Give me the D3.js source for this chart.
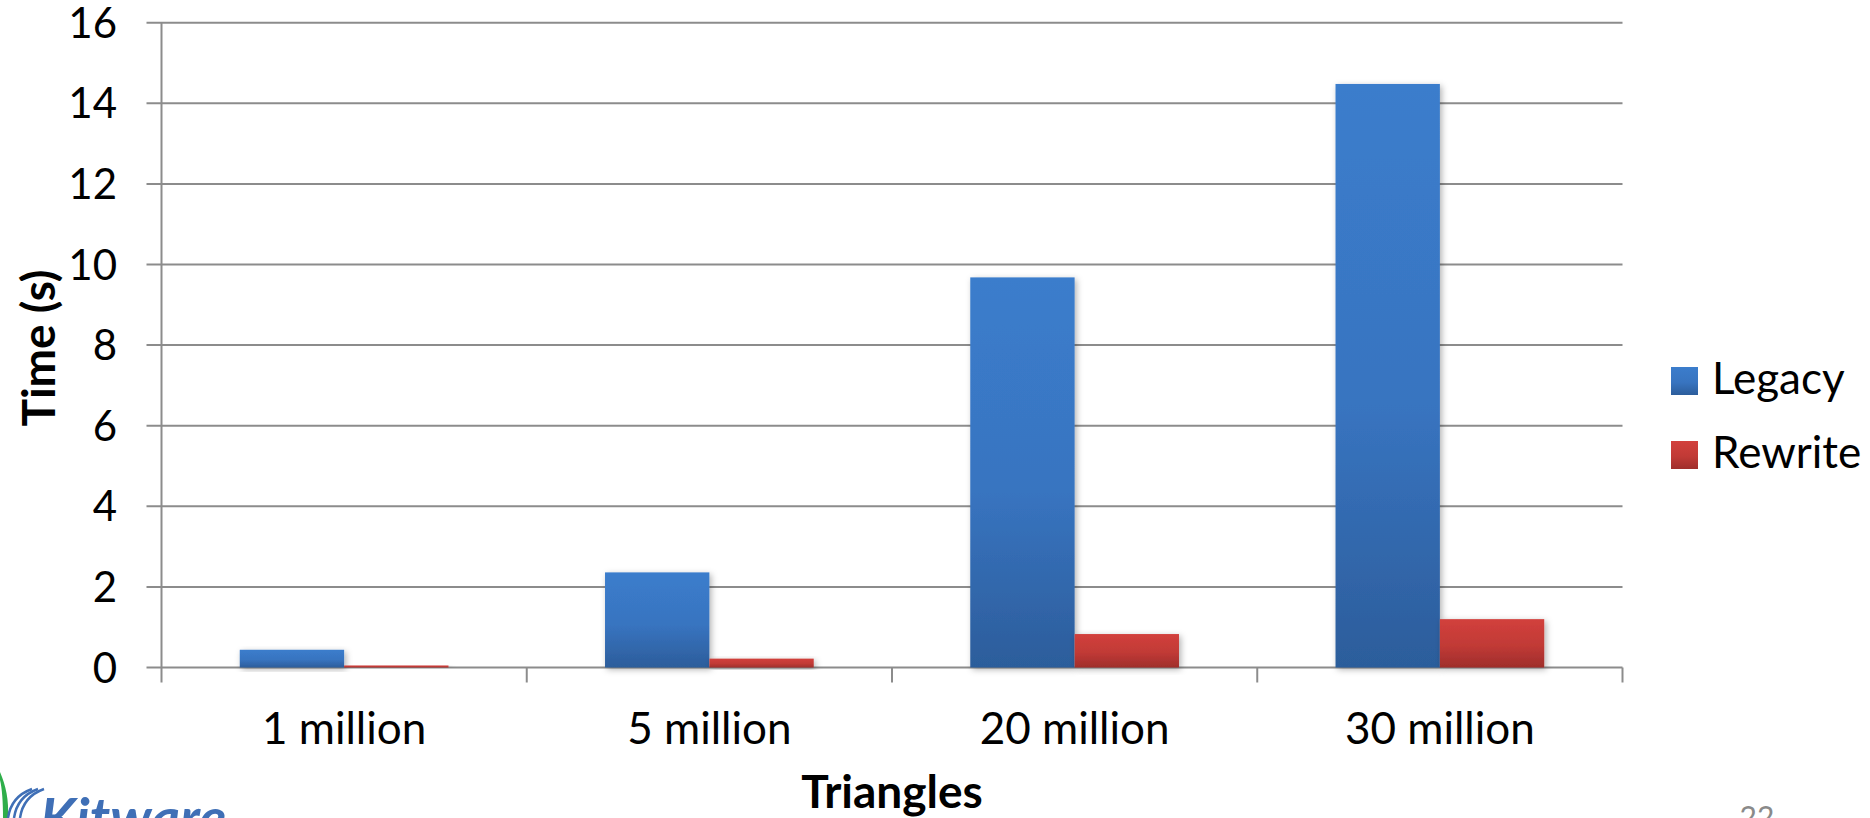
<!DOCTYPE html>
<html>
<head>
<meta charset="utf-8">
<script src="https://cdn.jsdelivr.net/npm/d3@7/dist/d3.min.js"></script>
<style>
  html, body { margin: 0; padding: 0; background: #ffffff; }
  svg { display: block; font-family: Lato, "Open Sans", sans-serif; }
</style>
</head>
<body>
<svg id="chart" width="1870" height="818"></svg>
<script>
// Render time by triangle count, legacy vs rewritten pipeline
const categories = ["1 million", "5 million", "20 million", "30 million"];
const seriesNames = ["Legacy", "Rewrite"];
const legacyTimes = [0.44, 2.36, 9.68, 14.48];
const rewriteTimes = [0.05, 0.22, 0.83, 1.2];
const yTicks = [0, 2, 4, 6, 8, 10, 12, 14, 16];
const xTitle = "Triangles";
const yTitle = "Time (s)";
const pageNumber = "22";

const seriesValues = { Legacy: legacyTimes, Rewrite: rewriteTimes };

const svg = d3.select("#chart");
const plot = { left: 161.5, right: 1622.5, top: 22.7, bottom: 667.5 };

const x = d3.scaleBand().domain(categories).range([plot.left, plot.right]).paddingInner(0).paddingOuter(0);
const xs = d3.scaleBand().domain(seriesNames).range([0, x.bandwidth()]).paddingInner(0).paddingOuter(0.75);
const y = d3.scaleLinear().domain([0, 16]).range([plot.bottom, plot.top]);

// gradients and shadow
const defs = svg.append("defs");
const gradStops = {
  Legacy: [["0%", "#3b7dcc"], ["55%", "#3874c0"], ["100%", "#2c5d9b"]],
  Rewrite: [["0%", "#d2403c"], ["55%", "#c13a36"], ["100%", "#9f2e2b"]]
};
seriesNames.forEach(s => {
  const g = defs.append("linearGradient").attr("id", "grad-" + s)
    .attr("x1", 0).attr("y1", 0).attr("x2", 0).attr("y2", 1);
  gradStops[s].forEach(([o, c]) => g.append("stop").attr("offset", o).attr("stop-color", c));
});
const shadow = defs.append("filter").attr("id", "barShadow")
  .attr("x", "-20%").attr("y", "-20%").attr("width", "140%").attr("height", "140%");
shadow.append("feDropShadow").attr("dx", 2).attr("dy", 2).attr("stdDeviation", 3)
  .attr("flood-color", "#000").attr("flood-opacity", 0.3);

const gridColor = "#8c8c8c";

// horizontal gridlines
svg.append("g").selectAll("line").data(yTicks).join("line")
  .attr("x1", plot.left - 15).attr("x2", plot.right)
  .attr("y1", d => y(d)).attr("y2", d => y(d))
  .attr("stroke", gridColor).attr("stroke-width", 2);

// y axis line
svg.append("line").attr("x1", plot.left).attr("x2", plot.left)
  .attr("y1", plot.top).attr("y2", plot.bottom + 15)
  .attr("stroke", gridColor).attr("stroke-width", 2);

// x category ticks
const xBounds = categories.map(c => x(c)).concat([plot.right]);
svg.append("g").selectAll("line").data(xBounds.slice(1)).join("line")
  .attr("x1", d => d).attr("x2", d => d)
  .attr("y1", plot.bottom).attr("y2", plot.bottom + 15)
  .attr("stroke", gridColor).attr("stroke-width", 2);

// y tick labels
svg.append("g").selectAll("text").data(yTicks).join("text")
  .attr("x", 117).attr("y", d => y(d) + 15)
  .attr("text-anchor", "end").attr("font-size", 42).attr("fill", "#000")
  .text(d => d);

// bars
const barData = [];
categories.forEach((c, i) => seriesNames.forEach(s => barData.push({ c, s, v: seriesValues[s][i] })));
svg.append("g").selectAll("rect").data(barData).join("rect")
  .attr("x", d => x(d.c) + xs(d.s))
  .attr("width", xs.bandwidth())
  .attr("y", d => y(d.v))
  .attr("height", d => y(0) - y(d.v))
  .attr("fill", d => "url(#grad-" + d.s + ")")
  .attr("filter", "url(#barShadow)");

// category labels
svg.append("g").selectAll("text").data(categories).join("text")
  .attr("x", d => x(d) + x.bandwidth() / 2).attr("y", 744)
  .attr("text-anchor", "middle").attr("font-size", 44).attr("fill", "#000")
  .text(d => d);

// axis titles
svg.append("text").attr("x", (plot.left + plot.right) / 2).attr("y", 808)
  .attr("text-anchor", "middle").attr("font-size", 46).attr("font-weight", "bold")
  .text(xTitle);
svg.append("text").attr("transform", "translate(55,348) rotate(-90)")
  .attr("text-anchor", "middle").attr("font-size", 46).attr("font-weight", "bold")
  .text(yTitle);

// legend
const legend = svg.append("g").selectAll("g").data(seriesNames).join("g")
  .attr("transform", (d, i) => `translate(1671,${367 + i * 74})`);
legend.append("rect").attr("width", 27).attr("height", 28)
  .attr("fill", d => "url(#grad-" + d + ")");
legend.append("text").attr("x", 41).attr("y", 27)
  .attr("font-size", 44).attr("fill", "#000").text(d => d);

// footer: logo and page number
const logo = svg.append("g");
logo.append("path").attr("d", "M0,772 C6,786 9,800 8,818 L3,818 C3,802 2,788 0,780 Z").attr("fill", "#2fae4a");
[0, 6, 12].forEach(o => {
  logo.append("path").attr("d", `M${8 + o},818 C${10 + o},804 ${18 + o},794 ${32 + o},789`)
    .attr("fill", "none").attr("stroke", "#3f6fb6").attr("stroke-width", 2.5);
});
logo.append("text").attr("x", 40).attr("y", 838)
  .attr("font-size", 56).attr("font-weight", "bold").attr("font-style", "italic")
  .attr("fill", "#3f6fb6").text("Kitware");
svg.append("text").attr("x", 1757).attr("y", 828).attr("text-anchor", "middle")
  .attr("font-size", 30).attr("fill", "#8a8a8a").text(pageNumber);
</script>
</body>
</html>
